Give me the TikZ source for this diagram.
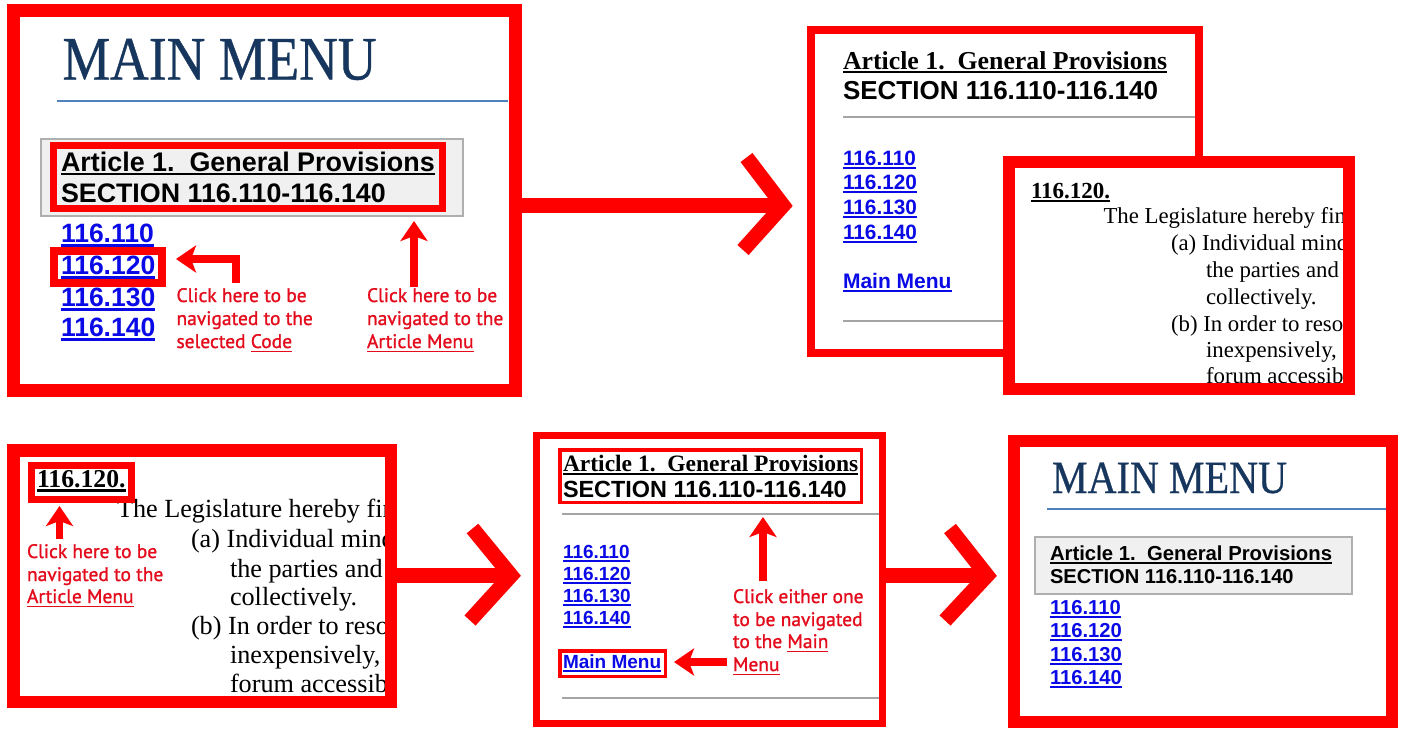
\documentclass[tikz,border=0pt]{standalone}
\usepackage{fontspec}
\setmainfont{Liberation Serif}
\newfontfamily\arial{Liberation Sans}
\newfontfamily\ptsans[FakeBold=1.2]{PT Sans}
\newfontfamily\cambr[FakeStretch=0.87,FakeBold=0.6]{Liberation Serif}
\usetikzlibrary{arrows.meta}
\definecolor{fr}{RGB}{255,0,0}
\definecolor{tr}{RGB}{228,12,28}
\definecolor{navy}{RGB}{23,54,93}
\definecolor{bline}{RGB}{79,129,189}
\definecolor{lnk}{RGB}{10,10,230}
\definecolor{gbox}{RGB}{240,240,240}
\definecolor{gedge}{RGB}{175,175,175}
\definecolor{grule}{RGB}{165,165,165}
\newcommand\fsz[1]{\fontsize{#1}{#1}\selectfont}
\newcommand\myul[3]{\setbox0\hbox{#3}\rlap{\rule[-#1]{\wd0}{#2}}\box0}
\tikzset{
  txt/.style={anchor=base west, inner sep=0pt, outer sep=0pt},
  rtxt/.style={txt, text=tr, font=\ptsans\fsz{19.5}},
  frame/.style={draw=fr, fill=white},
  shaft/.style={draw=fr, line width=15},
  chev/.style={draw=fr, line width=15, line join=miter},
  tarrow/.style={draw=fr, line width=7.5, line join=miter, -{Stealth[length=20pt,width=27pt,inset=5pt]}},
  greyrule/.style={draw=grule, line width=2},
  blueline/.style={draw=bline, line width=2},
  greybox/.style={draw=gedge, fill=gbox, line width=1.5},
}
\begin{document}
\begin{tikzpicture}[x=1pt,y=-1pt]
\useasboundingbox (0,0) rectangle (1402,728);
\fill[white] (0,0) rectangle (1402,728);

% ---------------- Panel 1 ----------------
\draw[frame, line width=13] (13.5,10.5) rectangle (515.5,390.5);
\node[txt, text=navy, font=\cambr\fsz{61.6}] (mm1) at (62.5,79.5) {MAIN MENU};
\draw[blueline] (57,101) -- (508,101);
\draw[greybox] (41,139) rectangle (463,216);
\node[txt, font=\arial\bfseries\fsz{26.9}] (art1) at (61,171) {\myul{4.3pt}{2.5pt}{Article 1.\ \ General Provisions}};
\node[txt, font=\arial\bfseries\fsz{26.8}] (sec1) at (61,202) {SECTION 116.110-116.140};
\draw[fr, line width=7] (53.5,145.5) rectangle (442.5,208.5);
\node[txt, text=lnk, font=\arial\bfseries\fsz{26.5}] (l11) at (61,242) {\myul{5pt}{2.6pt}{116.110}};
\node[txt, text=lnk, font=\arial\bfseries\fsz{26.5}] (l12) at (61,274) {\myul{5pt}{2.6pt}{116.120}};
\node[txt, text=lnk, font=\arial\bfseries\fsz{26.5}] (l13) at (61,306) {\myul{5pt}{2.6pt}{116.130}};
\node[txt, text=lnk, font=\arial\bfseries\fsz{26.5}] (l14) at (61,336) {\myul{5pt}{2.6pt}{116.140}};
\draw[fr, line width=8] (54,251) rectangle (162,283);
\draw[tarrow] (236,283) -- (236,259) -- (176,259);
\draw[tarrow] (414,287) -- (414,221);
\node[rtxt] (c1a) at (176.5,302) {Click here to be};
\node[rtxt] (c1b) at (176.5,325) {navigated to the};
\node[rtxt] (c1c) at (176.5,348) {selected \myul{4pt}{1.3pt}{Code}};
\node[rtxt] (c2a) at (367,302) {Click here to be};
\node[rtxt] (c2b) at (367,325) {navigated to the};
\node[rtxt] (c2c) at (367,348) {\myul{4pt}{1.3pt}{Article Menu}};

% arrow 1
\draw[shaft] (515,205.5) -- (783,205.5);
\draw[chev] (746.5,157.5) -- (783,205.5) -- (743,250);

% ---------------- Panel 2 ----------------
\draw[frame, line width=8] (811,30) rectangle (1199,353);
\node[txt, font=\bfseries\fsz{25.8}] (art2) at (843,69) {\myul{4pt}{2.3pt}{Article 1.\ \ General Provisions}};
\node[txt, font=\arial\bfseries\fsz{26}] (sec2) at (843,99) {SECTION 116.110-116.140};
\draw[greyrule] (843,117) -- (1195,117);
\node[txt, text=lnk, font=\arial\bfseries\fsz{20.8}] (l21) at (843,165) {\myul{4pt}{2pt}{116.110}};
\node[txt, text=lnk, font=\arial\bfseries\fsz{20.8}] (l22) at (843,189) {\myul{4pt}{2pt}{116.120}};
\node[txt, text=lnk, font=\arial\bfseries\fsz{20.8}] (l23) at (843,214) {\myul{4pt}{2pt}{116.130}};
\node[txt, text=lnk, font=\arial\bfseries\fsz{20.8}] (l24) at (843,239) {\myul{4pt}{2pt}{116.140}};
\node[txt, text=lnk, font=\arial\bfseries\fsz{21}] (mm2) at (843,288) {\myul{4pt}{2pt}{Main Menu}};
\draw[greyrule] (843,321) -- (1195,321);

% ---------------- Panel 3 ----------------
\fill[white] (1003,156) rectangle (1355,395);
\begin{scope}
\clip (1015,168) rectangle (1343,383);
\node[txt, font=\bfseries\fsz{23}] (h3) at (1031,198) {\myul{3.8pt}{1.8pt}{116.120.}};
\begin{scope}[every node/.style={txt, font=\fsz{22.8}}]
\node (p3a) at (1103.5,223) {The Legislature hereby fin};
\node (p3b) at (1171,250) {(a) Individual mind};
\node (p3c) at (1206,277) {the parties and};
\node (p3d) at (1206,304) {collectively.};
\node (p3e) at (1171,331.5) {(b) In order to reso};
\node (p3f) at (1206,357) {inexpensively,};
\node (p3g) at (1206,383) {forum accessib};
\end{scope}
\end{scope}
\draw[draw=fr, line width=12] (1009,162) rectangle (1349,389);

% ---------------- Panel 4 ----------------
\fill[white] (7,444) rectangle (397,708);
\begin{scope}
\clip (19.5,456.5) rectangle (384.5,695.5);
\node[txt, font=\bfseries\fsz{25.7}] (h4) at (37,487) {\myul{4.5pt}{2.2pt}{116.120.}};
\begin{scope}[every node/.style={txt, font=\fsz{26.2}}]
\node (p4a) at (117,517) {The Legislature hereby fin};
\node (p4b) at (191,547) {(a) Individual mind};
\node (p4c) at (230,577) {the parties and};
\node (p4d) at (230,605) {collectively.};
\node (p4e) at (191,634) {(b) In order to reso};
\node (p4f) at (230,663) {inexpensively,};
\node (p4g) at (230,692) {forum accessib};
\end{scope}
\end{scope}
\draw[draw=fr, line width=12.5] (13.25,450.25) rectangle (390.75,701.75);
\draw[fr, line width=7] (31.5,465.5) rectangle (131.5,499.5);
\draw[tarrow] (59.5,539) -- (59.5,506);
\node[rtxt] (c4a) at (27,558) {Click here to be};
\node[rtxt] (c4b) at (27,581) {navigated to the};
\node[rtxt] (c4c) at (27,603) {\myul{4pt}{1.3pt}{Article Menu}};

% arrow 2
\draw[shaft] (390,575.5) -- (511,575.5);
\draw[chev] (472.5,528.5) -- (511,575.5) -- (470,620.5);

% ---------------- Panel 5 ----------------
\draw[frame, line width=7] (536.5,435.5) rectangle (882.5,723.5);
\node[txt, font=\bfseries\fsz{23.5}] (art5) at (563,471) {\myul{3.6pt}{2pt}{Article 1.\ \ General Provisions}};
\node[txt, font=\arial\bfseries\fsz{23.4}] (sec5) at (563,497) {SECTION 116.110-116.140};
\draw[fr, line width=3.5] (559.75,449.75) rectangle (861.25,502.25);
\draw[greyrule] (562,514) -- (879,514);
\node[txt, text=lnk, font=\arial\bfseries\fsz{19}] (l51) at (563,558) {\myul{3.8pt}{1.9pt}{116.110}};
\node[txt, text=lnk, font=\arial\bfseries\fsz{19}] (l52) at (563,580) {\myul{3.8pt}{1.9pt}{116.120}};
\node[txt, text=lnk, font=\arial\bfseries\fsz{19}] (l53) at (563,602) {\myul{3.8pt}{1.9pt}{116.130}};
\node[txt, text=lnk, font=\arial\bfseries\fsz{19}] (l54) at (563,624) {\myul{3.8pt}{1.9pt}{116.140}};
\node[txt, text=lnk, font=\arial\bfseries\fsz{19}] (mm5) at (563,668) {\myul{3.8pt}{1.9pt}{Main Menu}};
\draw[fr, line width=3.5] (559.75,650.75) rectangle (665.25,676.25);
\draw[greyrule] (562,698) -- (879,698);
\draw[tarrow] (763,581) -- (763,517);
\draw[tarrow] (727,662) -- (674,662);
\node[rtxt] (c5a) at (733,603) {Click either one};
\node[rtxt] (c5b) at (733,626) {to be navigated};
\node[rtxt] (c5c) at (733,648) {to the \myul{4pt}{1.3pt}{Main}};
\node[rtxt] (c5d) at (733,671) {\myul{4pt}{1.3pt}{Menu}};

% arrow 3
\draw[shaft] (882,575.5) -- (987,575.5);
\draw[chev] (950,528.5) -- (987,575.5) -- (945,620.5);

% ---------------- Panel 6 ----------------
\draw[frame, line width=12] (1014,441) rectangle (1392,722);
\node[txt, text=navy, font=\cambr\fsz{46.1}] (mm6) at (1052,493) {MAIN MENU};
\draw[blueline] (1047,509) -- (1386,509);
\draw[greybox] (1035,537) rectangle (1352,594);
\node[txt, font=\arial\bfseries\fsz{20.3}] (art6) at (1050,560) {\myul{3.5pt}{2pt}{Article 1.\ \ General Provisions}};
\node[txt, font=\arial\bfseries\fsz{20.1}] (sec6) at (1050,583) {SECTION 116.110-116.140};
\node[txt, text=lnk, font=\arial\bfseries\fsz{20.2}] (l61) at (1050,614) {\myul{3.8pt}{2pt}{116.110}};
\node[txt, text=lnk, font=\arial\bfseries\fsz{20.2}] (l62) at (1050,637) {\myul{3.8pt}{2pt}{116.120}};
\node[txt, text=lnk, font=\arial\bfseries\fsz{20.2}] (l63) at (1050,661) {\myul{3.8pt}{2pt}{116.130}};
\node[txt, text=lnk, font=\arial\bfseries\fsz{20.2}] (l64) at (1050,684) {\myul{3.8pt}{2pt}{116.140}};
\end{tikzpicture}
\end{document}
